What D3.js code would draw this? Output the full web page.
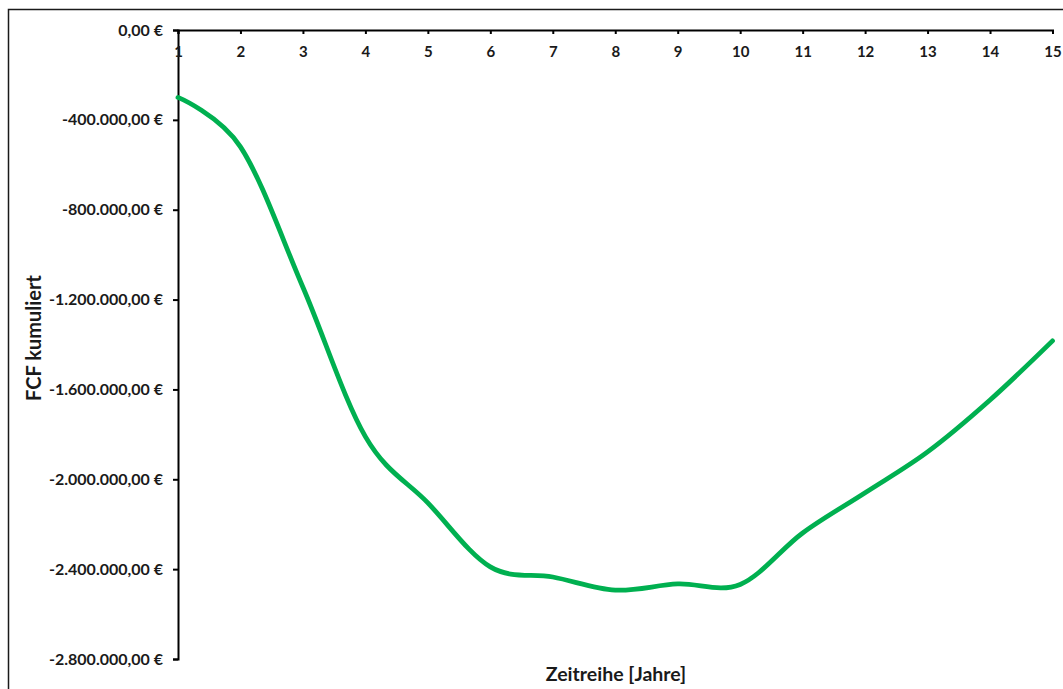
<!DOCTYPE html>
<html>
<head>
<meta charset="utf-8">
<script src="https://cdn.jsdelivr.net/npm/d3@7"></script>
<style>
  html, body { margin: 0; padding: 0; background: #fff; }
  svg { display: block; font-family: Lato, "Open Sans", sans-serif; font-weight: 700; }
</style>
</head>
<body>
<svg id="chart" width="1063" height="689"></svg>
<script>
// Cumulative free cash flow per year
const years = [1, 2, 3, 4, 5, 6, 7, 8, 9, 10, 11, 12, 13, 14, 15];
const fcfCumulative = [
  -300000, -520000, -1145000, -1810000, -2105000, -2390000, -2435000,
  -2493000, -2466000, -2468000, -2239000, -2060000, -1878000, -1647000, -1384000
];
const yTicks = [0, -400000, -800000, -1200000, -1600000, -2000000, -2400000, -2800000];

const svg = d3.select("#chart");
const width = 1063, height = 689;
const margin = { left: 178, right: 10.5, top: 30, bottom: 30 };

// Outer chart frame (runs off the right and bottom edges)
svg.append("rect")
  .attr("x", 8.5).attr("y", 9.5)
  .attr("width", width + 20).attr("height", height + 20)
  .attr("fill", "none").attr("stroke", "#1a1a1a").attr("stroke-width", 1.5);

const x = d3.scaleLinear().domain([1, 15]).range([margin.left, width - margin.right]);
const y = d3.scaleLinear().domain([0, -2800000]).range([margin.top, height - margin.bottom]);

// German number format: 1.200.000,00 €
const de = d3.formatLocale({ decimal: ",", thousands: ".", grouping: [3], currency: ["", " €"], minus: "-" });
const fmt = de.format("$,.2f");

// Y axis
const yAxis = svg.append("g")
  .attr("transform", `translate(${margin.left},0)`)
  .call(d3.axisLeft(y).tickValues(yTicks).tickFormat(fmt).tickSize(5).tickSizeOuter(5).tickPadding(10));

// X axis sits at the zero line, labels below it
const xAxis = svg.append("g")
  .attr("transform", `translate(0,${y(0)})`)
  .call(d3.axisBottom(x).tickValues(years).tickFormat(d3.format("d")).tickSize(4).tickSizeOuter(4).tickPadding(12));

[yAxis, xAxis].forEach(g => {
  g.select(".domain").attr("stroke", "#000").attr("stroke-width", 2);
  g.selectAll(".tick line").attr("stroke", "#000").attr("stroke-width", 2);
  g.selectAll(".tick text").attr("fill", "#1a1a1a").style("font-family", "Lato, sans-serif").style("font-weight", 700);
});
xAxis.selectAll(".tick text").style("font-size", "15px");
yAxis.selectAll(".tick text").style("font-size", "16px");

// Line
const line = d3.line()
  .x((d, i) => x(years[i]))
  .y(d => y(d))
  .curve(d3.curveCardinal.tension(0));

svg.append("path")
  .datum(fcfCumulative)
  .attr("d", line)
  .attr("fill", "none")
  .attr("stroke", "#00B050")
  .attr("stroke-width", 4.8)
  .attr("stroke-linejoin", "round")
  .attr("stroke-linecap", "round");

// Axis titles
svg.append("text")
  .attr("x", 616).attr("y", 681)
  .attr("text-anchor", "middle")
  .attr("fill", "#1a1a1a")
  .style("font-size", "19.5px")
  .text("Zeitreihe [Jahre]");

svg.append("text")
  .attr("transform", "translate(41,338) rotate(-90)")
  .attr("text-anchor", "middle")
  .attr("fill", "#1a1a1a")
  .style("font-size", "20px")
  .text("FCF kumuliert");
</script>
</body>
</html>
